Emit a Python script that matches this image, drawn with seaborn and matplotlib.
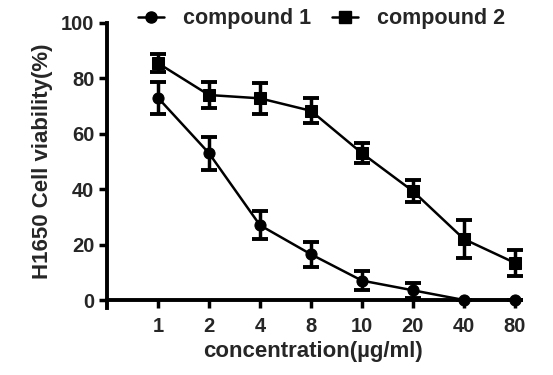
import pandas as pd
import numpy as np
import matplotlib
matplotlib.use("Agg")
import matplotlib.pyplot as plt
import seaborn as sns
from matplotlib.lines import Line2D

sns.set_theme(style="ticks")
plt.rcParams['font.family'] = ['Liberation Sans', 'DejaVu Sans']
plt.rcParams['font.weight'] = 'bold'

concentrations = ['1', '2', '4', '8', '10', '20', '40', '80']
compound1_mean = [73, 53, 27, 16.5, 7, 3.5, 0, 0]
compound1_err = [5.7, 6, 5, 4.5, 3.4, 2.7, 0, 0]
compound2_mean = [85.5, 74, 72.8, 68.3, 53, 39.3, 22, 13.4]
compound2_err = [3.3, 4.7, 5.7, 4.5, 3.5, 4, 7, 4.7]

pos = np.arange(1, len(concentrations) + 1)
df = pd.DataFrame({
    'pos': np.concatenate([pos, pos]),
    'viability': compound1_mean + compound2_mean,
    'err': compound1_err + compound2_err,
    'compound': ['compound 1'] * len(pos) + ['compound 2'] * len(pos),
})

fig = plt.figure(figsize=(5.53, 3.75), dpi=100)
ax = fig.add_axes([107 / 553, 0.2, 413 / 553, 0.7387])

markers = {'compound 1': 'o', 'compound 2': 's'}
sns.lineplot(data=df, x='pos', y='viability', style='compound', markers=markers,
             dashes=False, color='black', linewidth=1.8, markersize=8,
             markeredgecolor='black', ax=ax, legend=False, clip_on=False, zorder=3)

# error bars (SD) drawn on top of the seaborn lines
for name, sub in df.groupby('compound'):
    ax.errorbar(sub['pos'], sub['viability'], yerr=sub['err'], fmt='none',
                ecolor='black', elinewidth=2.5, capsize=6, capthick=2.8,
                clip_on=False, zorder=3)

ax.set_xlim(0, 8.1)
ax.set_ylim(0, 100)
ax.set_xticks(pos)
ax.set_xticklabels(concentrations)
ax.set_yticks([0, 20, 40, 60, 80, 100])
ax.tick_params(axis='both', width=2.5, length=6, labelsize=14.5, color='black')
ax.tick_params(axis='x', pad=6)
ax.tick_params(axis='y', pad=3)
for side in ['left', 'bottom']:
    ax.spines[side].set_linewidth(2.8)
    ax.spines[side].set_color('black')
sns.despine(ax=ax)
ax.spines['left'].set_bounds(-3, 100)

ax.set_xlabel('concentration(µg/ml)', fontsize=16, fontweight='bold', labelpad=4)
ax.set_ylabel('H1650 Cell viability(%)', fontsize=16, fontweight='bold')
ax.yaxis.set_label_coords(-0.131, 0.5)

handles = [Line2D([], [], color='black', marker=markers[k], markersize=8, linewidth=1.8)
           for k in ['compound 1', 'compound 2']]
fig.legend(handles, ['compound 1', 'compound 2'], loc='upper center',
           bbox_to_anchor=(0.582, 1.03), ncol=2, frameon=False,
           prop={'size': 15.5, 'weight': 'bold'}, handlelength=1.2,
           columnspacing=0.95, handletextpad=0.9)

fig.savefig('out.png', dpi=100)
